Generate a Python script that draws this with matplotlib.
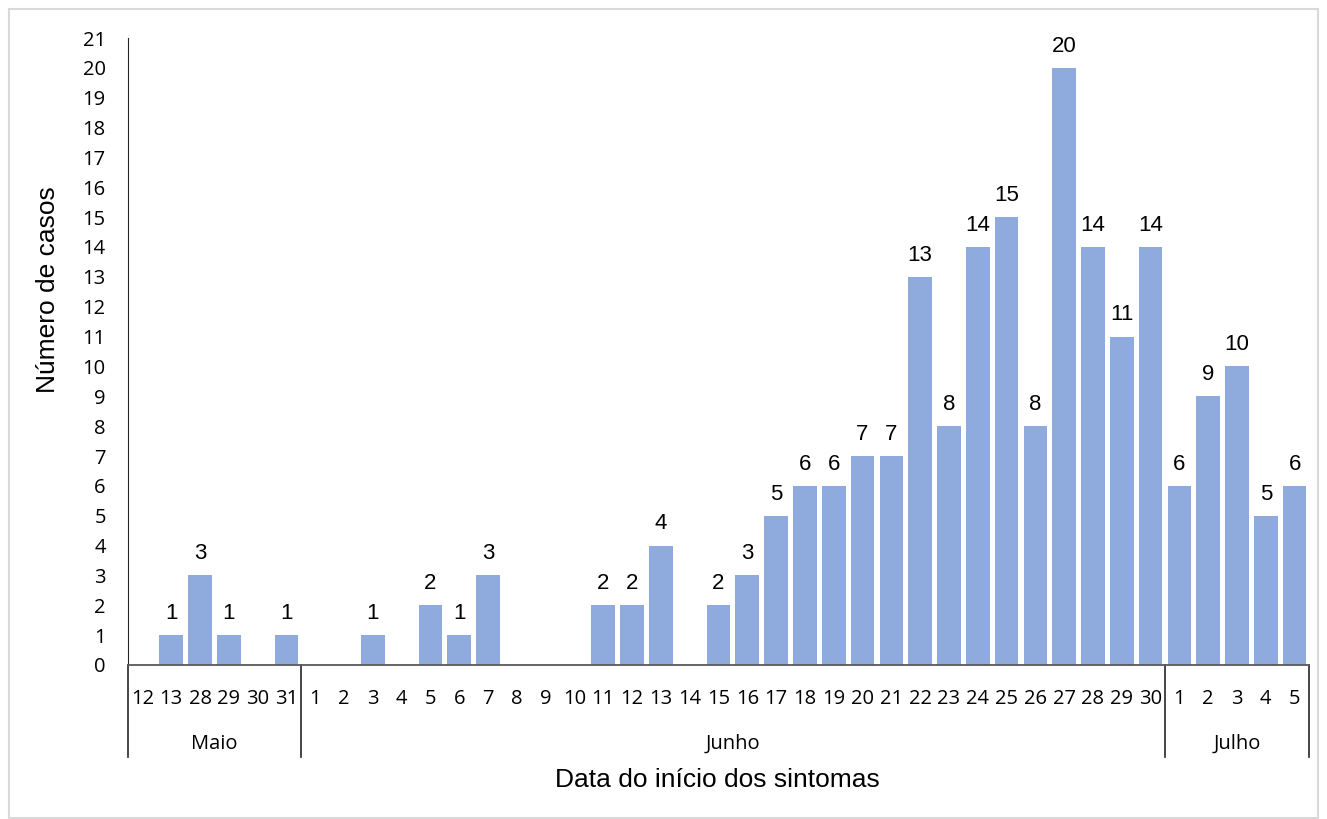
import matplotlib.pyplot as plt
import matplotlib.transforms as mtransforms
from matplotlib.patches import Rectangle

# Casos por data de início dos sintomas
dias_maio = ["12", "13", "28", "29", "30", "31"]
casos_maio = [0, 1, 3, 1, 0, 1]
dias_junho = [str(d) for d in range(1, 31)]
casos_junho = [0, 0, 1, 0, 2, 1, 3, 0, 0, 0, 2, 2, 4, 0, 2, 3, 5, 6, 6, 7,
               7, 13, 8, 14, 15, 8, 20, 14, 11, 14]
dias_julho = ["1", "2", "3", "4", "5"]
casos_julho = [6, 9, 10, 5, 6]
meses = ["Maio", "Junho", "Julho"]

dias = dias_maio + dias_junho + dias_julho
casos = casos_maio + casos_junho + casos_julho
tamanhos = [len(dias_maio), len(dias_junho), len(dias_julho)]

W, H = 1327, 819
fig = plt.figure(figsize=(W / 100, H / 100), dpi=100)
fig.patches.append(Rectangle((9 / W, 1 / H), (W - 18) / W, (H - 10) / H,
                             transform=fig.transFigure, fill=False,
                             edgecolor="#d9d9d9", linewidth=1.5))

left, right, bottom, top = 128, 1309, 665, 38
ax = fig.add_axes([left / W, 1 - bottom / H, (right - left) / W, (bottom - top) / H])

x = list(range(len(dias)))
bars = ax.bar(x, casos, width=0.82, color="#8faadc")

for xi, v in zip(x, casos):
    if v > 0:
        ax.annotate(str(v), (xi, v), xytext=(0, 8), textcoords="offset points",
                    ha="center", va="bottom", fontsize=16,
                    family="Liberation Sans")

ax.set_xlim(-0.5, len(dias) - 0.5)
ax.set_ylim(0, 21)
ax.set_yticks(range(0, 22))
ax.tick_params(axis="y", length=0, pad=16, labelsize=14.5)
ax.set_xticks(x)
ax.set_xticklabels(dias)
ax.tick_params(axis="x", length=0, pad=17, labelsize=14.5)
for lab in ax.get_xticklabels() + ax.get_yticklabels():
    lab.set_family("Open Sans")

for s in ["top", "right"]:
    ax.spines[s].set_visible(False)
ax.spines["left"].set_color("#262626")
ax.spines["bottom"].set_color("#595959")
ax.spines["bottom"].set_linewidth(1.3)

# eixo de meses abaixo das datas
axh = bottom - top
trans = mtransforms.blended_transform_factory(ax.transData, ax.transAxes)
y_fim = -(757 - bottom) / axh
y_mes = -(744 - bottom) / axh
limites = [-0.5]
for n in tamanhos:
    limites.append(limites[-1] + n)
for xb in limites:
    ax.plot([xb, xb], [0, y_fim], transform=trans, color="#262626",
            linewidth=1.2, clip_on=False)
for mes, a, b in zip(meses, limites[:-1], limites[1:]):
    ax.text((a + b) / 2, y_mes, mes, transform=trans, ha="center", va="center",
            fontsize=14.5, family="Open Sans")

# títulos dos eixos
fig.text(717 / W, 1 - 780 / H, "Data do início dos sintomas", fontsize=19,
         family="Liberation Sans", ha="center", va="center")
fig.text(48 / W, 1 - 290 / H, "Número de casos", fontsize=19,
         family="Liberation Sans", ha="center", va="center", rotation=90)

fig.savefig("out.png", dpi=100)
